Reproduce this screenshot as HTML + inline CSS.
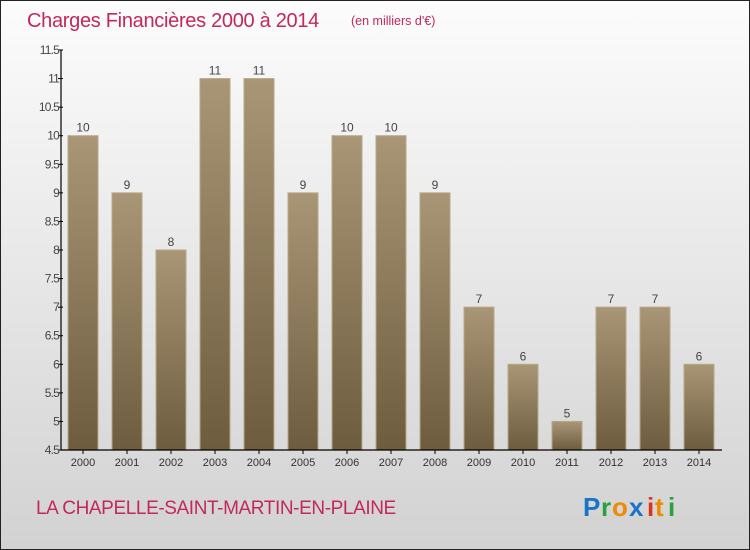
<!DOCTYPE html>
<html><head><meta charset="utf-8"><style>
body{margin:0;}
#wrap{position:relative;width:750px;height:550px;box-sizing:border-box;border:1px solid #222;background:linear-gradient(#fcfcfc,#d2d2d2);font-family:"Liberation Sans",sans-serif;overflow:hidden}
</style></head><body>
<div id="wrap">
<svg id="c" width="748" height="548">
<defs><linearGradient id="bg" x1="0" y1="0" x2="0" y2="1"><stop offset="0" stop-color="#a89677"/><stop offset="1" stop-color="#6e5c3e"/></linearGradient></defs>
<text x="26" y="26" font-size="20" letter-spacing="-0.3" fill="#c2285e">Charges Financières 2000 à 2014</text>
<text x="350" y="24" font-size="12.5" fill="#c2285e">(en milliers d'€)</text>
<text x="35" y="513" font-size="19" letter-spacing="-0.4" fill="#c2285e">LA CHAPELLE-SAINT-MARTIN-EN-PLAINE</text>
<g font-size="26" font-weight="bold" font-family="'Liberation Sans',sans-serif">
<text x="582" y="515" fill="#1a73c8">P</text><text x="600" y="515" fill="#2aa040">r</text><text x="611" y="515" fill="#f08a00">o</text><text x="628" y="515" fill="#1a73c8">x</text><text x="646" y="515" fill="#e03020">i</text><text x="654" y="515" fill="#f08a00">t</text><text x="667" y="515" fill="#2aa040">i</text>
</g>
<g id="g"></g>
</svg></div>
<script>
const years=["2000","2001","2002","2003","2004","2005","2006","2007","2008","2009","2010","2011","2012","2013","2014"];
const values=[10,9,8,11,11,9,10,10,9,7,6,5,7,7,6];
const yTicks=[4.5,5,5.5,6,6.5,7,7.5,8,8.5,9,9.5,10,10.5,11,11.5];
const ns="http://www.w3.org/2000/svg";
const g=document.getElementById('g');
const X0=60,X1=720,Y0=449,Y1=49,vmin=4.5,vmax=11.5;
const y=v=>Y0-(v-vmin)/(vmax-vmin)*(Y0-Y1);
const step=(X1-X0)/years.length;
const xc=i=>X0+step*(i+0.5);
function el(t,a,txt){const e=document.createElementNS(ns,t);for(const k in a)e.setAttribute(k,a[k]);if(txt!=null)e.textContent=txt;g.appendChild(e);return e;}
values.forEach((v,i)=>{
 const r=el('rect',{x:xc(i)-15,y:y(v),width:30,height:Y0-y(v),fill:'url(#bg)',stroke:'#b8a788','stroke-width':1});
 
 
 const t=el('text',{x:xc(i),y:y(v)-4,'text-anchor':'middle','font-size':12,fill:'#444'},String(v));
 
 
 const xl=el('text',{x:xc(i),y:Y0+16,'text-anchor':'middle','font-size':11,fill:'#333'},years[i]);
 
 
 el('line',{x1:xc(i),x2:xc(i),y1:Y0,y2:Y0+4,stroke:'#000'});
});
yTicks.forEach(v=>{
 el('line',{x1:X0-3,x2:X0+2,y1:y(v),y2:y(v),stroke:'#000'});
 const t=el('text',{x:X0-2,y:y(v)+4,'text-anchor':'end','font-size':12,fill:'#444','letter-spacing':'-0.8'},String(v));
 
 
});
const ya=el('line',{x1:X0,x2:X0,y1:Y1,y2:Y0,stroke:'#000','stroke-width':1.2});


const xa=el('line',{x1:X0,x2:X1+1,y1:Y0,y2:Y0,stroke:'#000','stroke-width':1.2});


</script>
</body></html>
